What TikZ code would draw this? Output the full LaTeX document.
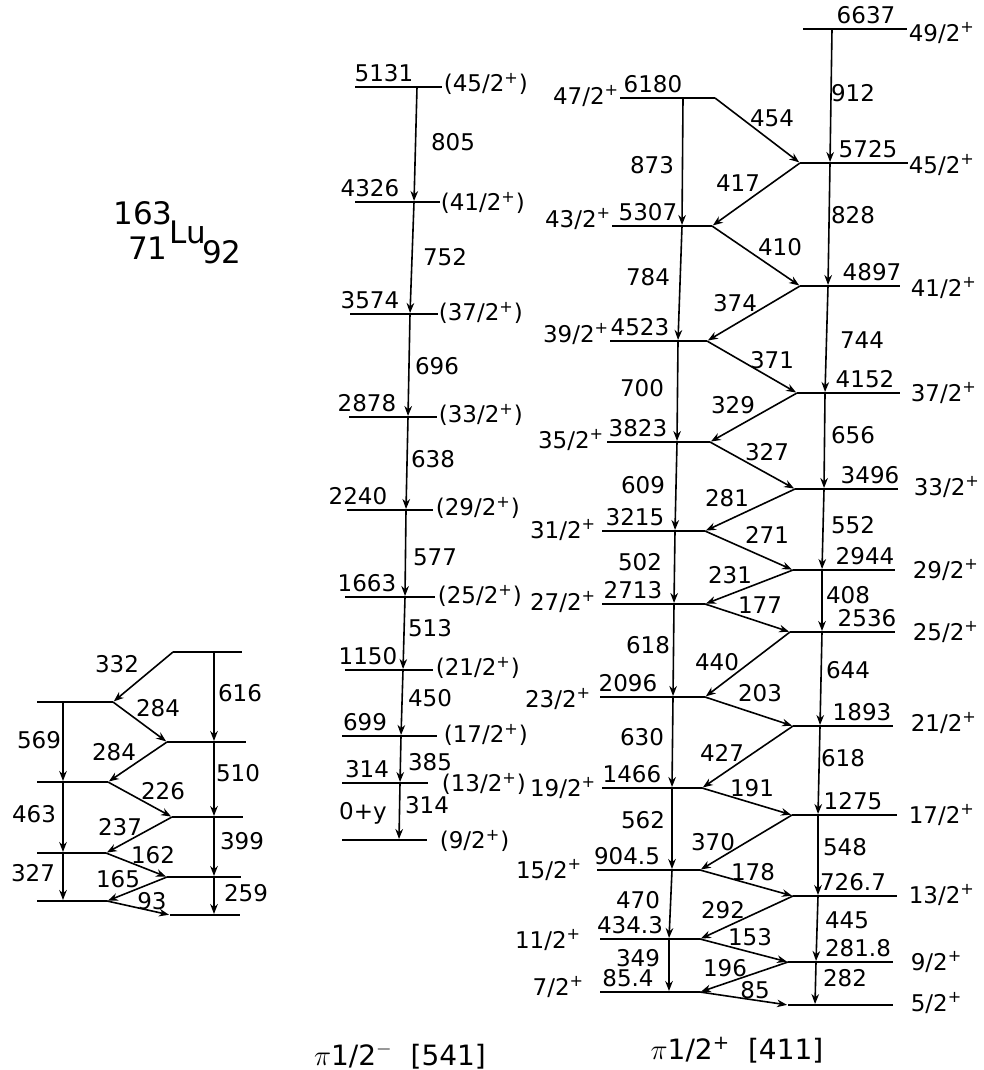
\documentclass[tikz,border=0pt]{standalone}
\usepackage{fontspec}
\setmainfont{DejaVu Sans}
\usetikzlibrary{arrows.meta}

\begin{document}
\begin{tikzpicture}[x=0.5pt,y=-0.5pt,line width=0.8pt,>={Stealth[length=5pt,width=3.8pt]},
   lev/.style={line width=0.9pt},
   tr/.style={->,shorten >=0.5pt},
   en/.style={anchor=south,inner sep=0pt,yshift=2pt,font=\fontsize{11.5}{13}\selectfont},
   sp/.style={anchor=west,inner sep=0pt,font=\fontsize{11.5}{13}\selectfont},
   spl/.style={anchor=east,inner sep=0pt,font=\fontsize{11.5}{13}\selectfont},
   ga/.style={inner sep=0pt,font=\fontsize{11.5}{13}\selectfont},
   nuc/.style={inner sep=0pt,font=\fontsize{15.5}{18}\selectfont}]
  \useasboundingbox (0,0) rectangle (984,1070);

  % nucleus
  \node[nuc] (mass) at (143,213) {163};
  \node[nuc] (z) at (148,248) {71};
  \node[nuc,anchor=base west] (lu) at (169,243) {Lu};
  \node[nuc] (n) at (222,252) {92};

  % small band at the left
  \draw[lev] (173,652) coordinate (aL) -- (242,652) coordinate (aR);
  \draw[lev] (37,702) coordinate (bL) -- (113,702) coordinate (bR);
  \draw[lev] (167,742) coordinate (cL) -- (246,742) coordinate (cR);
  \draw[lev] (37,782) coordinate (dL) -- (108,782) coordinate (dR);
  \draw[lev] (172,817) coordinate (eL) -- (243,817) coordinate (eR);
  \draw[lev] (37,853) coordinate (fL) -- (106,853) coordinate (fR);
  \draw[lev] (167,877) coordinate (gL) -- (241,877) coordinate (gR);
  \draw[lev] (37,901) coordinate (hL) -- (107,901) coordinate (hR);
  \draw[lev] (170,915) coordinate (iL) -- (240,915) coordinate (iR);
  \coordinate (lx) at (63,0);
  \coordinate (rx) at (214,0);
  \draw[tr] (aL) -- (bR);
  \draw[tr] (rx |- aL) -- (rx |- cL);
  \draw[tr] (bR) -- (cL);
  \draw[tr] (lx |- bL) -- (lx |- dL);
  \draw[tr] (cL) -- (dR);
  \draw[tr] (rx |- cL) -- (rx |- eL);
  \draw[tr] (dR) -- (eL);
  \draw[tr] (lx |- dL) -- (lx |- fL);
  \draw[tr] (eL) -- (fR);
  \draw[tr] (rx |- eL) -- (rx |- gL);
  \draw[tr] (fR) -- (gL);
  \draw[tr] (lx |- fL) -- (lx |- hL);
  \draw[tr] (gL) -- (hR);
  \draw[tr] (rx |- gL) -- (rx |- iL);
  \draw[tr] (hR) -- (iL);
  \node[ga] at (117,664) {332};
  \node[ga] at (240,693) {616};
  \node[ga] at (158,708) {284};
  \node[ga] at (39,740) {569};
  \node[ga] at (114,752) {284};
  \node[ga] at (238,773) {510};
  \node[ga] at (163,791) {226};
  \node[ga] at (34,814) {463};
  \node[ga] at (120,827) {237};
  \node[ga] at (242,841) {399};
  \node[ga] at (153,855) {162};
  \node[ga] at (33,873) {327};
  \node[ga] at (118,879) {165};
  \node[ga] at (246,893) {259};
  \node[ga] at (152,901) {93};

  % band pi 1/2- [541]
  \draw[lev] (355,87) -- (442,87);  \coordinate (m5131) at (417,87);
  \draw[lev] (355,202) -- (440,202); \coordinate (m4326) at (414,202);
  \draw[lev] (350,314) -- (438,314); \coordinate (m3574) at (410,314);
  \draw[lev] (349,417) -- (437,417); \coordinate (m2878) at (408,417);
  \draw[lev] (347,510) -- (433,510); \coordinate (m2240) at (406,510);
  \draw[lev] (345,597) -- (435,597); \coordinate (m1663) at (405,597);
  \draw[lev] (345,670) -- (433,670); \coordinate (m1150) at (403,670);
  \draw[lev] (342,736) -- (437,736); \coordinate (m699) at (401,736);
  \draw[lev] (342,783) -- (428,783); \coordinate (m314) at (400,783);
  \draw[lev] (342,840) -- (427,840); \coordinate (m0) at (399,840);
  \node[en] at (384,87) {5131};  \node[sp] at (443,84) {(45/2\textsuperscript{+})};
  \node[en] at (370,202) {4326}; \node[sp] at (440,203) {(41/2\textsuperscript{+})};
  \node[en] at (370,314) {3574}; \node[sp] at (438,313) {(37/2\textsuperscript{+})};
  \node[en] at (367,417) {2878}; \node[sp] at (438,415) {(33/2\textsuperscript{+})};
  \node[en] at (358,510) {2240}; \node[sp] at (435,508) {(29/2\textsuperscript{+})};
  \node[en] at (367,597) {1663}; \node[sp] at (437,596) {(25/2\textsuperscript{+})};
  \node[en] at (368,670) {1150}; \node[sp] at (435,668) {(21/2\textsuperscript{+})};
  \node[en] at (365,736) {699};  \node[sp] at (443,735) {(17/2\textsuperscript{+})};
  \node[en] at (367,783) {314};  \node[sp] at (441,784) {(13/2\textsuperscript{+})};
  \node[en] at (363,829) {0+y};  \node[sp] at (439,841) {(9/2\textsuperscript{+})};
  \draw[tr] (m5131) -- (m4326);
  \draw[tr] (m4326) -- (m3574);
  \draw[tr] (m3574) -- (m2878);
  \draw[tr] (m2878) -- (m2240);
  \draw[tr] (m2240) -- (m1663);
  \draw[tr] (m1663) -- (m1150);
  \draw[tr] (m1150) -- (m699);
  \draw[tr] (m699) -- (m314);
  \draw[tr] (m314) -- (m0);
  \node[ga] at (453,142) {805};
  \node[ga] at (445,257) {752};
  \node[ga] at (437,366) {696};
  \node[ga] at (433,459) {638};
  \node[ga] at (435,557) {577};
  \node[ga] at (430,628) {513};
  \node[ga] at (430,698) {450};
  \node[ga] at (430,762) {385};
  \node[ga] at (427,805) {314};
  \node[ga,font=\fontsize{14}{16}\selectfont] at (400,1056) {$\pi$1/2\textsuperscript{$-$}\ \ [541]};

  % band pi 1/2+ [411], signature a
  \draw[lev] (620,98) -- (715,98) coordinate (a6180);   \coordinate (l6180) at (683,98);
  \draw[lev] (612,226) -- (712,226) coordinate (a5307); \coordinate (l5307) at (682,226);
  \draw[lev] (610,341) -- (707,341) coordinate (a4523); \coordinate (l4523) at (678,341);
  \draw[lev] (607,442) -- (710,442) coordinate (a3823); \coordinate (l3823) at (677,442);
  \draw[lev] (602,531) -- (705,531) coordinate (a3215); \coordinate (l3215) at (675,531);
  \draw[lev] (602,604) -- (705,604) coordinate (a2713); \coordinate (l2713) at (674,604);
  \draw[lev] (600,697) -- (705,697) coordinate (a2096); \coordinate (l2096) at (673,697);
  \draw[lev] (602,788) -- (702,788) coordinate (a1466); \coordinate (l1466) at (672,788);
  \draw[lev] (597,870) -- (700,870) coordinate (a904);  \coordinate (l904) at (672,870);
  \draw[lev] (600,939) -- (700,939) coordinate (a434);  \coordinate (l434) at (669,939);
  \draw[lev] (600,992) -- (700,992) coordinate (a85);   \coordinate (l85) at (669,992);
  \node[en] at (653,98) {6180};  \node[spl] at (620,96) {47/2\textsuperscript{+}};
  \node[en] at (648,226) {5307}; \node[spl] at (612,219) {43/2\textsuperscript{+}};
  \node[en] at (640,341) {4523}; \node[spl] at (610,334) {39/2\textsuperscript{+}};
  \node[en] at (638,442) {3823}; \node[spl] at (605,440) {35/2\textsuperscript{+}};
  \node[en] at (635,531) {3215}; \node[spl] at (597,530) {31/2\textsuperscript{+}};
  \node[en] at (633,604) {2713}; \node[spl] at (597,602) {27/2\textsuperscript{+}};
  \node[en] at (628,697) {2096}; \node[spl] at (592,699) {23/2\textsuperscript{+}};
  \node[en] at (632,788) {1466}; \node[spl] at (597,788) {19/2\textsuperscript{+}};
  \node[en] at (627,870) {904.5}; \node[spl] at (583,870) {15/2\textsuperscript{+}};
  \node[en] at (630,939) {434.3}; \node[spl] at (582,940) {11/2\textsuperscript{+}};
  \node[en] at (628,992) {85.4}; \node[spl] at (585,987) {7/2\textsuperscript{+}};

  % signature b
  \draw[lev] (803,29) -- (907,29);                      \coordinate (r6637) at (832,29);
  \draw[lev] (800,163) coordinate (b5725) -- (908,163); \coordinate (r5725) at (830,163);
  \draw[lev] (800,286) coordinate (b4897) -- (900,286); \coordinate (r4897) at (828,286);
  \draw[lev] (797,393) coordinate (b4152) -- (900,393); \coordinate (r4152) at (825,393);
  \draw[lev] (795,489) coordinate (b3496) -- (898,489); \coordinate (r3496) at (824,489);
  \draw[lev] (793,570) coordinate (b2944) -- (895,570); \coordinate (r2944) at (822,570);
  \draw[lev] (790,632) coordinate (b2536) -- (895,632); \coordinate (r2536) at (822,632);
  \draw[lev] (793,726) coordinate (b1893) -- (893,726); \coordinate (r1893) at (820,726);
  \draw[lev] (792,815) coordinate (b1275) -- (897,815); \coordinate (r1275) at (818,815);
  \draw[lev] (793,896) coordinate (b726) -- (897,896);  \coordinate (r726) at (818,896);
  \draw[lev] (788,962) coordinate (b281) -- (893,962);  \coordinate (r281) at (816,962);
  \draw[lev] (788,1005) coordinate (b0) -- (893,1005);  \coordinate (r0) at (815,1005);
  \node[en] at (866,29) {6637};  \node[sp] at (908,33) {49/2\textsuperscript{+}};
  \node[en] at (868,163) {5725}; \node[sp] at (908,165) {45/2\textsuperscript{+}};
  \node[en] at (872,286) {4897}; \node[sp] at (910,288) {41/2\textsuperscript{+}};
  \node[en] at (865,393) {4152}; \node[sp] at (910,393) {37/2\textsuperscript{+}};
  \node[en] at (870,489) {3496}; \node[sp] at (913,487) {33/2\textsuperscript{+}};
  \node[en] at (865,570) {2944}; \node[sp] at (912,570) {29/2\textsuperscript{+}};
  \node[en] at (867,632) {2536}; \node[sp] at (912,632) {25/2\textsuperscript{+}};
  \node[en] at (862,726) {1893}; \node[sp] at (910,723) {21/2\textsuperscript{+}};
  \node[en] at (853,815) {1275}; \node[sp] at (908,815) {17/2\textsuperscript{+}};
  \node[en] at (853,896) {726.7}; \node[sp] at (908,895) {13/2\textsuperscript{+}};
  \node[en] at (858,962) {281.8}; \node[sp] at (910,962) {9/2\textsuperscript{+}};
  \node[sp] at (910,1003) {5/2\textsuperscript{+}};

  % E2 cascades
  \draw[tr] (l6180) -- (l5307);
  \draw[tr] (l5307) -- (l4523);
  \draw[tr] (l4523) -- (l3823);
  \draw[tr] (l3823) -- (l3215);
  \draw[tr] (l3215) -- (l2713);
  \draw[tr] (l2713) -- (l2096);
  \draw[tr] (l2096) -- (l1466);
  \draw[tr] (l1466) -- (l904);
  \draw[tr] (l904) -- (l434);
  \draw[tr] (l434) -- (l85);
  \draw[tr] (r6637) -- (r5725);
  \draw[tr] (r5725) -- (r4897);
  \draw[tr] (r4897) -- (r4152);
  \draw[tr] (r4152) -- (r3496);
  \draw[tr] (r3496) -- (r2944);
  \draw[tr] (r2944) -- (r2536);
  \draw[tr] (r2536) -- (r1893);
  \draw[tr] (r1893) -- (r1275);
  \draw[tr] (r1275) -- (r726);
  \draw[tr] (r726) -- (r281);
  \draw[tr] (r281) -- (r0);
  % M1 zig-zag
  \draw[tr] (a6180) -- (b5725);
  \draw[tr] (b5725) -- (a5307);
  \draw[tr] (a5307) -- (b4897);
  \draw[tr] (b4897) -- (a4523);
  \draw[tr] (a4523) -- (b4152);
  \draw[tr] (b4152) -- (a3823);
  \draw[tr] (a3823) -- (b3496);
  \draw[tr] (b3496) -- (a3215);
  \draw[tr] (a3215) -- (b2944);
  \draw[tr] (b2944) -- (a2713);
  \draw[tr] (a2713) -- (b2536);
  \draw[tr] (b2536) -- (a2096);
  \draw[tr] (a2096) -- (b1893);
  \draw[tr] (b1893) -- (a1466);
  \draw[tr] (a1466) -- (b1275);
  \draw[tr] (b1275) -- (a904);
  \draw[tr] (a904) -- (b726);
  \draw[tr] (b726) -- (a434);
  \draw[tr] (a434) -- (b281);
  \draw[tr] (b281) -- (a85);
  \draw[tr] (a85) -- (b0);

  \node[ga] at (853,93) {912};
  \node[ga] at (772,118) {454};
  \node[ga] at (652,165) {873};
  \node[ga] at (738,183) {417};
  \node[ga] at (853,215) {828};
  \node[ga] at (780,247) {410};
  \node[ga] at (648,277) {784};
  \node[ga] at (735,303) {374};
  \node[ga] at (862,340) {744};
  \node[ga] at (772,360) {371};
  \node[ga] at (642,388) {700};
  \node[ga] at (733,405) {329};
  \node[ga] at (853,435) {656};
  \node[ga] at (767,452) {327};
  \node[ga] at (643,485) {609};
  \node[ga] at (727,498) {281};
  \node[ga] at (853,525) {552};
  \node[ga] at (767,535) {271};
  \node[ga] at (640,562) {502};
  \node[ga] at (730,575) {231};
  \node[ga] at (848,595) {408};
  \node[ga] at (760,605) {177};
  \node[ga] at (648,645) {618};
  \node[ga] at (717,662) {440};
  \node[ga] at (848,670) {644};
  \node[ga] at (760,693) {203};
  \node[ga] at (642,737) {630};
  \node[ga] at (722,753) {427};
  \node[ga] at (843,758) {618};
  \node[ga] at (752,788) {191};
  \node[ga] at (643,820) {562};
  \node[ga] at (713,842) {370};
  \node[ga] at (845,847) {548};
  \node[ga] at (753,872) {178};
  \node[ga] at (638,900) {470};
  \node[ga] at (723,910) {292};
  \node[ga] at (847,920) {445};
  \node[ga] at (750,937) {153};
  \node[ga] at (638,958) {349};
  \node[ga] at (725,968) {196};
  \node[ga] at (845,978) {282};
  \node[ga] at (755,990) {85};
  \node[ga,font=\fontsize{14}{16}\selectfont] at (737,1050) {$\pi$1/2\textsuperscript{+}\ \ [411]};
\end{tikzpicture}
\end{document}
